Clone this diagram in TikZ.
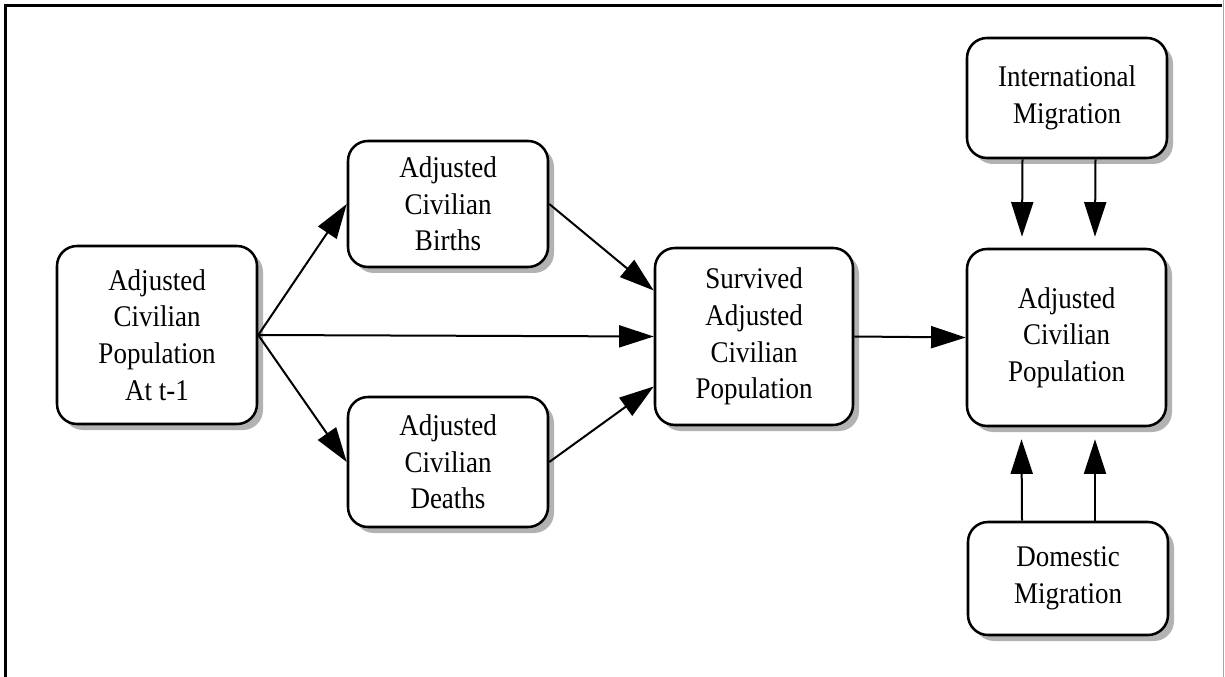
\documentclass[tikz,border=0pt]{standalone}
\usepackage{fontspec}
\setmainfont{Liberation Serif}[FakeStretch=0.9]
\usetikzlibrary{arrows.meta,calc,shadows}
\begin{document}
\begin{tikzpicture}[x=0.75pt,y=-0.75pt,
  box/.style={draw, line width=1.9pt, rounded corners=15pt, fill=white,
    align=center, inner sep=0pt, minimum width=150pt,
    font=\fontsize{22.5pt}{27.5pt}\selectfont,
    drop shadow={shadow xshift=4.5pt, shadow yshift=-4.5pt,
      fill=black!30, opacity=1}},
  arr/.style={line width=1.5pt, -{Triangle[length=26pt,width=16.5pt]}}]
\useasboundingbox (0,0) rectangle (1225,677);

% page frame
\draw[line width=2pt] (5.5,677) -- (5.5,5.5) -- (1222,5.5);
\draw[black!35, line width=0.8pt] (1223.5,0) -- (1223.5,677);

% flow boxes
\node[box, minimum height=133.5pt] (A) at (157,335)
  {Adjusted\\Civilian\\Population\\At t-1};
\node[box, minimum height=94.5pt] (B) at (448,204)
  {Adjusted\\Civilian\\Births};
\node[box, minimum height=97.5pt] (Dt) at (448,462)
  {Adjusted\\Civilian\\Deaths};
\node[box, minimum width=148.5pt, minimum height=132.75pt] (S) at (754,336.5)
  {Survived\\Adjusted\\Civilian\\Population};
\node[box, minimum width=149.25pt, minimum height=132.75pt] (R) at (1066.5,337.5)
  {Adjusted\\Civilian\\Population};
\node[box, minimum height=90pt] (I) at (1067,98)
  {International\\Migration};
\node[box, minimum height=84.75pt] (M) at (1068,578.5)
  {Domestic\\Migration};

% connectors
\draw[arr] (A.east) -- (B.west);
\draw[arr] (A.east) -- (S.west);
\draw[arr] (A.east) -- (Dt.west);
\draw[arr] (B.east) -- ($(S.west)+(0,-46)$);
\draw[arr] (Dt.east) -- ($(S.west)+(0,50)$);
\draw[arr] (S.east) -- (R.west);
\draw[arr] ($(I.south)+(-44.5,0)$) -- ($(R.north)+(-44.5,-11)$);
\draw[arr] ($(I.south)+(28.5,0)$) -- ($(R.north)+(28.5,-11)$);
\draw[arr] ($(M.north)+(-46,0)$) -- ($(R.south)+(-45,12)$);
\draw[arr] ($(M.north)+(27,0)$) -- ($(R.south)+(28.5,12)$);
\end{tikzpicture}
\end{document}
